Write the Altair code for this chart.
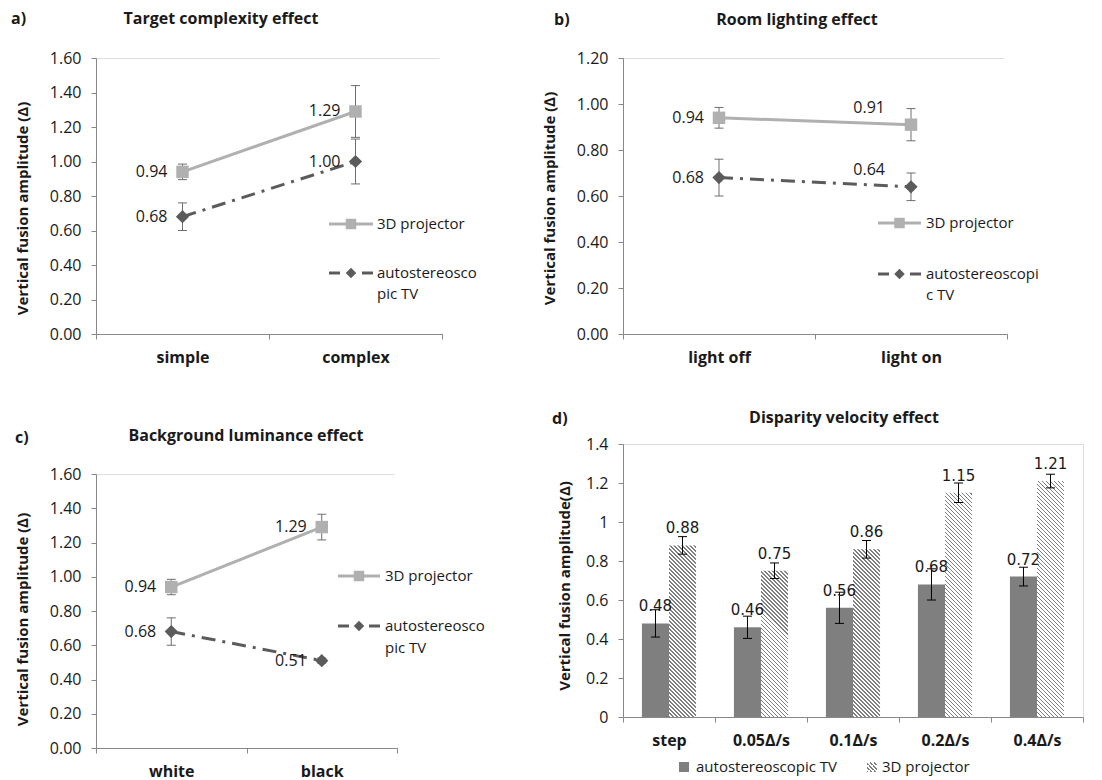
import altair as alt
import pandas as pd

FONT = "Open Sans"
PROJ = "3D projector"
TV = "autostereoscopic TV"

# ---------------- data ----------------
a_cats = ["simple", "complex"]
a_proj = [0.94, 1.29]
a_proj_err = [0.045, 0.15]
a_tv = [0.68, 1.00]
a_tv_err = [0.08, 0.13]

b_cats = ["light off", "light on"]
b_proj = [0.94, 0.91]
b_proj_err = [0.045, 0.07]
b_tv = [0.68, 0.64]
b_tv_err = [0.08, 0.06]

c_cats = ["white", "black"]
c_proj = [0.94, 1.29]
c_proj_err = [0.045, 0.075]
c_tv = [0.68, 0.51]
c_tv_err = [0.08, 0.015]

d_cats = ["step", "0.05Δ/s", "0.1Δ/s", "0.2Δ/s", "0.4Δ/s"]
d_tv = [0.48, 0.46, 0.56, 0.68, 0.72]
d_tv_err = [0.07, 0.057, 0.08, 0.08, 0.048]
d_proj = [0.88, 0.75, 0.86, 1.15, 1.21]
d_proj_err = [0.045, 0.04, 0.045, 0.05, 0.035]

ticks_16 = [0, 0.2, 0.4, 0.6, 0.8, 1.0, 1.2, 1.4, 1.6]
ticks_12 = [0, 0.2, 0.4, 0.6, 0.8, 1.0, 1.2]
ticks_14 = [0, 0.2, 0.4, 0.6, 0.8, 1.0, 1.2, 1.4]

# ---------------- style ----------------
PROJ_COL = "#B0B0B0"
TV_COL = "#5B5B5B"
ERR_COL = "#6E6E6E"
AXIS_COL = "#888888"
TEXT_COL = "#1A1A1A"
BAR_TV = "#7F7F7F"
HATCH_COL = "#808080"
CAP = "M-1,0L1,0"


def diag_hatch(w, h, period=4.0, frac=0.45):
    # fine stripes running top-left -> bottom-right for a w x h box
    n = max(1, int(round((w * w + h * h) / (period * w))))
    stops = []
    for i in range(n):
        stops += [
            {"offset": i / n, "color": HATCH_COL},
            {"offset": (i + frac) / n, "color": HATCH_COL},
            {"offset": (i + frac) / n, "color": "#FFFFFF"},
            {"offset": (i + 1) / n, "color": "#FFFFFF"},
        ]
    return {"gradient": "linear", "x1": 0, "y1": 1, "x2": 1, "y2": 1 - h / w, "stops": stops}


def table(cats, proj, proj_err, tv, tv_err):
    rows = []
    for c, v, e in zip(cats, proj, proj_err):
        rows.append(dict(cat=c, series=PROJ, val=v, lo=v - e, hi=v + e))
    for c, v, e in zip(cats, tv, tv_err):
        rows.append(dict(cat=c, series=TV, val=v, lo=v - e, hi=v + e))
    return pd.DataFrame(rows)


DUMMY = pd.DataFrame({"k": [0]})


def txt(x, y, s, size=15, weight="normal", align="left", font=FONT):
    return alt.Chart(DUMMY).mark_text(
        text=s, align=align, baseline="middle", font=font, fontSize=size,
        fontWeight=weight, color=TEXT_COL
    ).encode(x=alt.value(x), y=alt.value(y))


def box(x1, x2, y1, y2, fill):
    return alt.Chart(DUMMY).mark_rect(fill=fill, strokeWidth=0).encode(
        x=alt.value(x1), x2=alt.value(x2), y=alt.value(y1), y2=alt.value(y2))


def sym(x, y, shape, color, size):
    return alt.Chart(DUMMY).mark_point(
        shape=shape, filled=True, color=color, size=size, opacity=1
    ).encode(x=alt.value(x), y=alt.value(y))


def x_axis():
    return alt.Axis(
        title=None, labelAngle=0, labelFont=FONT, labelFontSize=16,
        labelFontWeight="bold", labelColor=TEXT_COL, tickBand="extent",
        tickSize=5, labelPadding=10, domainColor=AXIS_COL, tickColor=AXIS_COL,
        grid=False)


def y_axis(values, fmt, title, h, tx, ty):
    return alt.Axis(
        title=title, values=values, format=fmt, labelFont=FONT, labelFontSize=16,
        labelColor=TEXT_COL, labelPadding=10, tickSize=5, tickColor=AXIS_COL,
        domainColor=AXIS_COL, grid=False, titleFont=FONT, titleFontSize=15,
        titleFontWeight="bold", titleColor=TEXT_COL, titleX=tx, titleY=ty,
        titleAngle=270, titleAlign="center", titleBaseline="middle")


def line_panel(cats, proj, proj_err, tv, tv_err, w, h, ymax, ticks, letter,
               letter_pos, title, title_pos, ytitle, ty, leg, tv_leg, above=None):
    df = table(cats, proj, proj_err, tv, tv_err)
    base = alt.Chart(df)
    X = alt.X("cat:N", sort=cats,
              scale=alt.Scale(type="band", paddingInner=0, paddingOuter=0),
              axis=x_axis())
    yax = y_axis(ticks, ".2f", ytitle, h, -74, ty)

    def Y(f):
        return alt.Y(f + ":Q", scale=alt.Scale(domain=[0, ymax], nice=False), axis=yax)

    proj_b = base.transform_filter(alt.datum.series == PROJ)
    tv_b = base.transform_filter(alt.datum.series == TV)
    layers = [
        proj_b.mark_line(color=PROJ_COL, strokeWidth=3).encode(x=X, y=Y("val")),
        tv_b.mark_line(color=TV_COL, strokeWidth=3, strokeDash=[14, 7, 3, 7]).encode(x=X, y=Y("val")),
        base.mark_rule(color=ERR_COL, strokeWidth=1).encode(x=X, y=Y("lo"), y2="hi:Q"),
        base.mark_point(shape=CAP, size=81, filled=False, color=ERR_COL, strokeWidth=1,
                        opacity=1).encode(x=X, y=Y("lo")),
        base.mark_point(shape=CAP, size=81, filled=False, color=ERR_COL, strokeWidth=1,
                        opacity=1).encode(x=X, y=Y("hi")),
        proj_b.mark_point(shape="square", filled=True, size=155, color=PROJ_COL,
                          opacity=1).encode(x=X, y=Y("val")),
        tv_b.mark_point(shape="diamond", filled=True, size=175, color=TV_COL,
                        opacity=1).encode(x=X, y=Y("val")),
    ]
    lab = dict(baseline="middle", font=FONT, fontSize=16, color=TEXT_COL, align="right")
    if above is None:
        layers.append(base.mark_text(dx=-15, **lab).encode(
            x=X, y=Y("val"), text=alt.Text("val:Q", format=".2f")))
    else:
        layers.append(base.transform_filter(alt.datum.cat != above).mark_text(dx=-15, **lab).encode(
            x=X, y=Y("val"), text=alt.Text("val:Q", format=".2f")))
        layers.append(base.transform_filter(alt.datum.cat == above).mark_text(dx=-26, dy=-17, **lab).encode(
            x=X, y=Y("val"), text=alt.Text("val:Q", format=".2f")))
    lx1, lx2, ly1, ly2, ly3, ltx = leg
    lmid = (lx1 + lx2) / 2
    layers += [
        # keeps the right edge of the plot free of any frame line
        alt.Chart(DUMMY).mark_rule(color="#FFFFFF", strokeWidth=5).encode(
            x=alt.value(w), y=alt.value(0), y2=alt.value(h - 1)),
        box(lx1, lx2, ly1 - 1.5, ly1 + 1.5, PROJ_COL),
        box(lx1, lx1 + 11, ly2 - 1.5, ly2 + 1.5, TV_COL),
        box(lx2 - 11, lx2, ly2 - 1.5, ly2 + 1.5, TV_COL),
        sym(lmid, ly1, "square", PROJ_COL, 110),
        sym(lmid, ly2, "diamond", TV_COL, 110),
        txt(ltx, ly1, PROJ, size=15),
        txt(ltx, ly2, tv_leg[0], size=15),
        txt(ltx, ly3, tv_leg[1], size=15),
        txt(letter_pos[0], letter_pos[1], letter, size=16, weight="bold"),
        txt(title_pos[0], title_pos[1], title, size=16, weight="bold", align="center"),
    ]
    return alt.layer(*layers).properties(width=w, height=h)


pa = line_panel(a_cats, a_proj, a_proj_err, a_tv, a_tv_err, 346, 276, 1.6, ticks_16,
                "a)", (-85, -39), "Target complexity effect", (125, -39),
                "Vertical fusion amplitude (Δ)", 150, (233, 277, 166, 215, 236, 281),
                ("autostereosco", "pic TV"))
pb = line_panel(b_cats, b_proj, b_proj_err, b_tv, b_tv_err, 384, 276, 1.2, ticks_12,
                "b)", (-69, -38), "Room lighting effect", (174, -38),
                "Vertical fusion amplitude (∆)", 140, (255, 298, 165, 216, 237, 303),
                ("autostereoscopi", "c TV"), above="light on")
pc = line_panel(c_cats, c_proj, c_proj_err, c_tv, c_tv_err, 301, 274, 1.6, ticks_16,
                "c)", (-81, -36), "Background luminance effect", (150, -38),
                "Vertical fusion amplitude (∆)", 145, (242, 284, 102, 152, 174, 289),
                ("autostereosco", "pic TV"))

# ---------------- panel d ----------------
W_D, H_D = 460, 273
OUTER = 0.7
BAR_W = W_D / len(d_cats) / (2 + 2 * OUTER)
df_d = table(d_cats, d_proj, d_proj_err, d_tv, d_tv_err)
base_d = alt.Chart(df_d)
Xd = alt.X("cat:N", sort=d_cats, scale=alt.Scale(paddingInner=0, paddingOuter=0), axis=x_axis())
XO = alt.XOffset("series:N", scale=alt.Scale(domain=[TV, PROJ], paddingInner=0, paddingOuter=OUTER))
yax_d = y_axis(ticks_14, ".1~f", "Vertical fusion amplitude(Δ)", H_D, -59, H_D / 2 + 5)


def Yd(f):
    return alt.Y(f + ":Q", scale=alt.Scale(domain=[0, 1.4], nice=False), axis=yax_d)


pd_layers = [
    base_d.transform_filter(alt.datum.series == TV).mark_bar(color=BAR_TV).encode(
        x=Xd, xOffset=XO, y=Yd("val")),
]
for cat, v in zip(d_cats, d_proj):
    bar_h = v / 1.4 * H_D
    pd_layers.append(
        base_d.transform_filter((alt.datum.series == PROJ) & (alt.datum.cat == cat))
        .mark_bar(fill=diag_hatch(BAR_W, bar_h)).encode(x=Xd, xOffset=XO, y=Yd("val")))
pd_layers += [
    base_d.mark_rule(color="#000000", strokeWidth=1).encode(x=Xd, xOffset=XO, y=Yd("lo"), y2="hi:Q"),
    base_d.mark_point(shape=CAP, size=81, filled=False, color="#000000", strokeWidth=1,
                      opacity=1).encode(x=Xd, xOffset=XO, y=Yd("lo")),
    base_d.mark_point(shape=CAP, size=81, filled=False, color="#000000", strokeWidth=1,
                      opacity=1).encode(x=Xd, xOffset=XO, y=Yd("hi")),
    base_d.mark_text(dy=-17, baseline="middle", align="center", font="DejaVu Sans",
                     fontSize=15, color=TEXT_COL).encode(
        x=Xd, xOffset=XO, y=Yd("val"), text=alt.Text("val:Q", format=".2f")),
    box(56, 66, 318, 328, BAR_TV),
    txt(73, 323, TV, size=15),
    box(244, 254, 318, 328, diag_hatch(10, 10)),
    txt(259, 323, PROJ, size=15),
    txt(-71, -25, "d)", size=16, weight="bold"),
    txt(221, -26, "Disparity velocity effect", size=16, weight="bold", align="center"),
]
pdd = alt.layer(*pd_layers).properties(width=W_D, height=H_D)

left = alt.vconcat(pa, pc, spacing=140, bounds="flush")
right = alt.vconcat(pb, pdd, spacing=110, bounds="flush")
chart = alt.hconcat(left, right, spacing=527, bounds="flush").properties(
    padding={"left": 2, "top": 2, "right": 5, "bottom": 5}
).configure_view(stroke=None).configure(font=FONT)

chart.save("out.html", embed_options={"renderer": "svg", "actions": False})
